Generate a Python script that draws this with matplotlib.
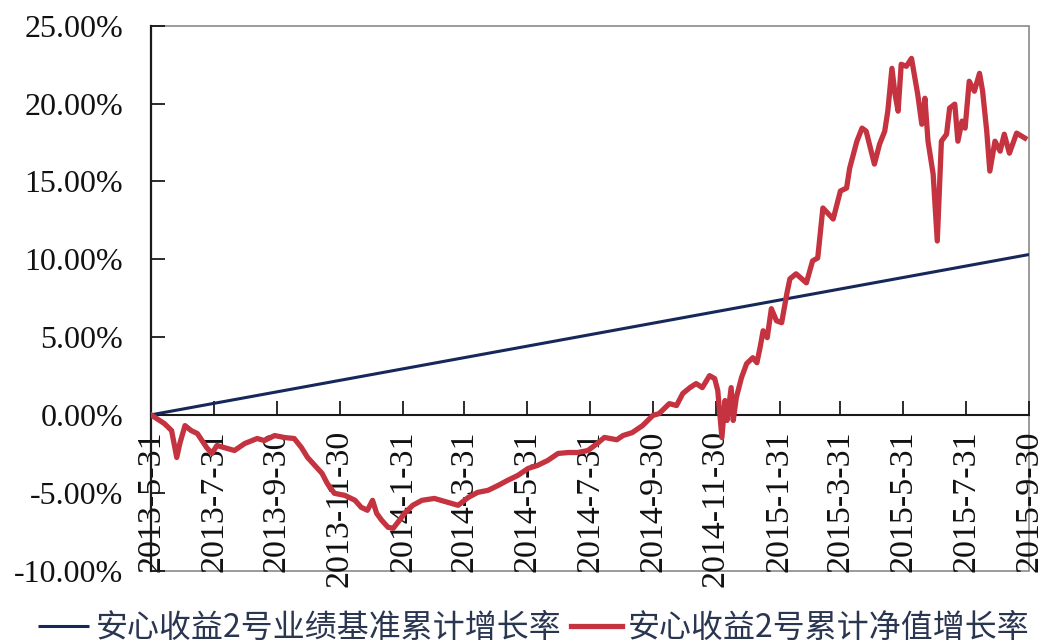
import matplotlib
matplotlib.use("Agg")
import matplotlib.pyplot as plt
import matplotlib.dates as mdates
from matplotlib.patches import Rectangle
from matplotlib.ticker import FuncFormatter
import pandas as pd

# ---- data ----
tick_dates = ["2013-05-31", "2013-07-31", "2013-09-30", "2013-11-30", "2014-01-31",
              "2014-03-31", "2014-05-31", "2014-07-31", "2014-09-30", "2014-11-30",
              "2015-01-31", "2015-03-31", "2015-05-31", "2015-07-31", "2015-09-30"]
y_ticks = [-10, -5, 0, 5, 10, 15, 20, 25]

bench_dates = ["2013-05-31", "2015-09-30"]
bench_values = [0.0, 10.3]

nav_dates = [
    "2013-05-31", "2013-06-13", "2013-06-20", "2013-06-25", "2013-06-28", "2013-07-03",
    "2013-07-09", "2013-07-15", "2013-07-24", "2013-07-29", "2013-08-03", "2013-08-10",
    "2013-08-20", "2013-08-30", "2013-09-11", "2013-09-18", "2013-09-28", "2013-10-08",
    "2013-10-17", "2013-10-24", "2013-10-30", "2013-11-06", "2013-11-13", "2013-11-18",
    "2013-11-25", "2013-12-05", "2013-12-15", "2013-12-21", "2013-12-27", "2014-01-01",
    "2014-01-05", "2014-01-10", "2014-01-16", "2014-01-21", "2014-01-27", "2014-02-01",
    "2014-02-09", "2014-02-18", "2014-03-02", "2014-03-15", "2014-03-25", "2014-04-04",
    "2014-04-13", "2014-04-23", "2014-05-03", "2014-05-12", "2014-05-22", "2014-06-01",
    "2014-06-10", "2014-06-20", "2014-06-30", "2014-07-10", "2014-07-19", "2014-07-29",
    "2014-08-07", "2014-08-14", "2014-08-26", "2014-09-01", "2014-09-10", "2014-09-20",
    "2014-09-30", "2014-10-06", "2014-10-16", "2014-10-23", "2014-10-29", "2014-11-05",
    "2014-11-11", "2014-11-17", "2014-11-24", "2014-11-29", "2014-12-02", "2014-12-06",
    "2014-12-09", "2014-12-11", "2014-12-15", "2014-12-17", "2014-12-20", "2014-12-25",
    "2014-12-30", "2015-01-05", "2015-01-09", "2015-01-12", "2015-01-15", "2015-01-19",
    "2015-01-23", "2015-01-28", "2015-02-02", "2015-02-07", "2015-02-10", "2015-02-16",
    "2015-02-26", "2015-03-04", "2015-03-09", "2015-03-14", "2015-03-24", "2015-03-31",
    "2015-04-06", "2015-04-09", "2015-04-16", "2015-04-21", "2015-04-25", "2015-05-03",
    "2015-05-08", "2015-05-13", "2015-05-16", "2015-05-20", "2015-05-23", "2015-05-26",
    "2015-05-29", "2015-06-03", "2015-06-08", "2015-06-14", "2015-06-18", "2015-06-21",
    "2015-06-24", "2015-06-29", "2015-07-03", "2015-07-07", "2015-07-12", "2015-07-15",
    "2015-07-20", "2015-07-23", "2015-07-27", "2015-07-30", "2015-08-03", "2015-08-08",
    "2015-08-13", "2015-08-16", "2015-08-20", "2015-08-23", "2015-08-28", "2015-09-02",
    "2015-09-06", "2015-09-11", "2015-09-18", "2015-09-26",
]
nav_values = [
    0.0, -0.56, -1.01, -2.74, -1.84, -0.69,
    -1.01, -1.20, -2.10, -2.48, -1.97, -2.10,
    -2.29, -1.84, -1.52, -1.65, -1.33, -1.46,
    -1.52, -2.10, -2.74, -3.25, -3.76, -4.40,
    -5.04, -5.17, -5.49, -5.94, -6.13, -5.49,
    -6.33, -6.78, -7.22, -7.29, -6.78, -6.33,
    -5.81, -5.49, -5.37, -5.62, -5.81, -5.30,
    -4.98, -4.85, -4.53, -4.21, -3.89, -3.44,
    -3.25, -2.93, -2.48, -2.42, -2.42, -2.29,
    -1.84, -1.45, -1.60, -1.33, -1.14, -0.69,
    -0.04, 0.08, 0.72, 0.60, 1.37, 1.75,
    2.01, 1.75, 2.52, 2.33, 1.56, -1.46,
    0.92, -0.36, 1.75, -0.36, 1.11, 2.39,
    3.29, 3.67, 3.35, 4.31, 5.40, 4.96,
    6.82, 6.04, 5.92, 7.78, 8.74, 9.06,
    8.48, 9.89, 10.08, 13.29, 12.58, 14.38,
    14.57, 15.85, 17.58, 18.42, 18.22, 16.11,
    17.39, 18.22, 19.51, 22.26, 20.60, 19.51,
    22.52, 22.39, 22.90, 20.60, 18.67, 20.34,
    17.58, 15.47, 11.17, 17.58, 18.03, 19.71,
    19.96, 17.58, 18.87, 18.42, 21.43, 20.79,
    21.94, 20.79, 18.22, 15.66, 17.58, 16.94,
    18.03, 16.81, 18.10, 17.78,
]

bench_label = "安心收益2号业绩基准累计增长率"
nav_label = "安心收益2号累计净值增长率"

# ---- figure ----
fig = plt.figure(figsize=(10.47, 6.44), dpi=100)
ax = fig.add_axes([0.1442, 0.1141, 0.8386, 0.846])

tdates = pd.to_datetime(tick_dates)
ax.plot(pd.to_datetime(bench_dates), bench_values, color="#16275a", lw=2.2,
        label=bench_label, zorder=3, solid_capstyle="butt")
ax.plot(pd.to_datetime(nav_dates), nav_values, color="#c4333f", lw=3.8,
        label=nav_label, zorder=4, solid_joinstyle="round")

ax.set_xlim(tdates[0], tdates[-1])
ax.set_ylim(-10, 25)

# frame
ax.add_patch(Rectangle((0, 0), 1, 1, transform=ax.transAxes, fill=False,
                       ec="#8a8a8a", lw=1.2, zorder=1, clip_on=False))
ax.spines["top"].set_visible(False)
ax.spines["right"].set_visible(False)
ax.spines["bottom"].set_position(("data", 0))
ax.spines["bottom"].set_color("#1a1a1a")
ax.spines["bottom"].set_linewidth(1.5)
ax.spines["left"].set_color("#1a1a1a")
ax.spines["left"].set_linewidth(1.6)

ax.set_xticks(tdates)
ax.set_xticklabels([f"{d.year}-{d.month}-{d.day}" for d in tdates], rotation=90,
                   fontfamily="Liberation Serif", fontsize=24.5)
ax.set_yticks(y_ticks)
ax.yaxis.set_major_formatter(FuncFormatter(lambda v, p: f"{v:.2f}%"))
for lab in ax.get_yticklabels():
    lab.set_fontfamily("Liberation Serif")
    lab.set_fontsize(23)
ax.tick_params(axis="x", direction="in", length=10, width=1.3, pad=11, colors="#1a1a1a")
ax.tick_params(axis="y", direction="in", length=10, width=1.3, pad=20, colors="#1a1a1a")
ax.tick_params(labelcolor="#111111")

leg = fig.legend(loc="center", bbox_to_anchor=(0.51, 0.025), ncol=2, frameon=False,
                 prop={"family": ["Noto Sans CJK SC", "DejaVu Sans"], "size": 23},
                 handlelength=1.6, handletextpad=0.2, columnspacing=0.3,
                 borderaxespad=0, borderpad=0)
for t in leg.get_texts():
    t.set_color("#2a3550")

fig.savefig("out.png", dpi=100)
